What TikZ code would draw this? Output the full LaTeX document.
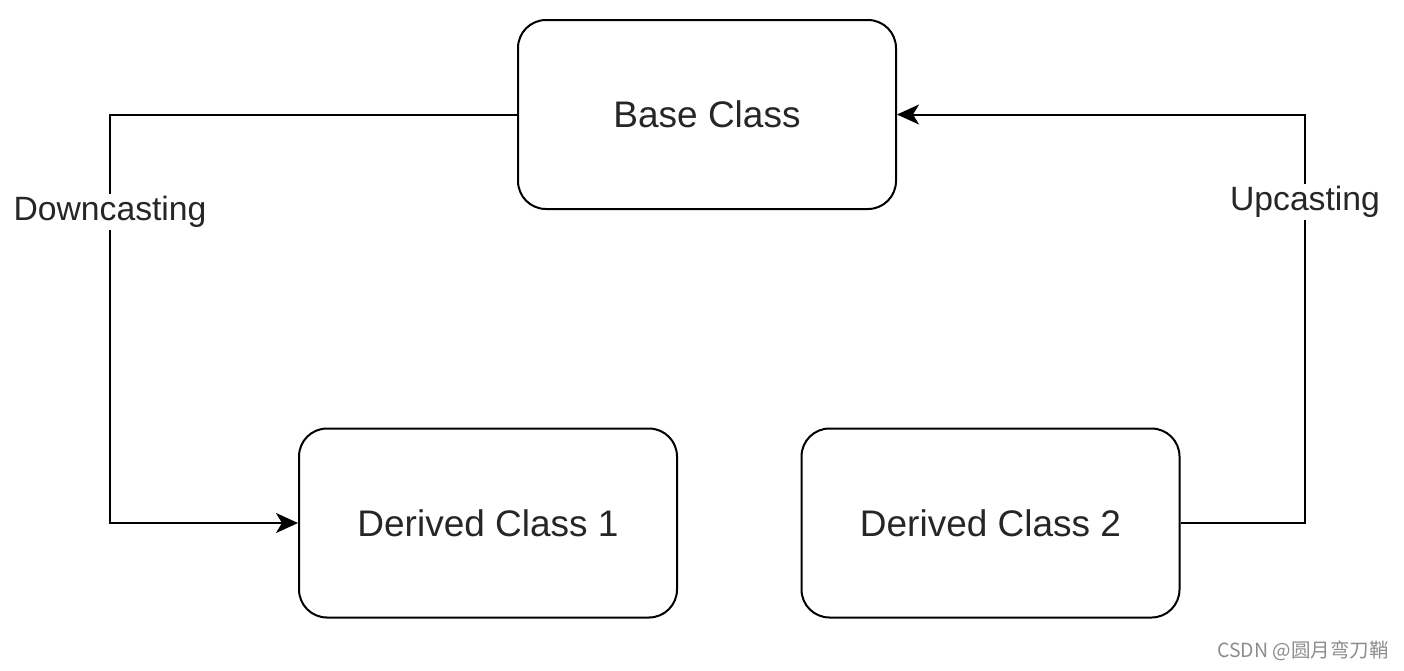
\documentclass[tikz,border=0pt]{standalone}
\usepackage{fontspec}
\setmainfont{Liberation Sans}
\newfontfamily\cjk{Noto Sans CJK SC}
\usetikzlibrary{arrows.meta}
\begin{document}
\begin{tikzpicture}[x=1pt,y=-1pt,
  cls/.style={draw=black,line width=2pt,rounded corners=28pt,minimum width=378pt,minimum height=189pt,inner sep=0pt,text=black!85,font=\fontsize{37}{40}\selectfont},
  conn/.style={draw=black,line width=2pt,-{Stealth[length=22pt,width=20pt,inset=6pt]}},
  lbl/.style={fill=white,inner sep=2pt,text=black!85,font=\fontsize{33.7}{36}\selectfont}]
\useasboundingbox (0,0) rectangle (1404,670);
\node[cls] (base) at (707,114.5) {Base Class};
\node[cls] (d1) at (488,523) {Derived Class 1};
\node[cls] (d2) at (990.5,523) {Derived Class 2};
\coordinate (lt) at (110,114.5);
\coordinate (lb) at (110,523);
\coordinate (rb) at (1305,523);
\coordinate (rt) at (1305,114.5);
\draw[conn] (base.west) -- (lt) -- (lb) -- (d1.west);
\draw[conn] (d2.east) -- (rb) -- (rt) -- (base.east);
\node[lbl] (down) at (110,212) {Downcasting};
\node[lbl] (up) at (1305,202) {Upcasting};
\node[anchor=east,text=black!45,font=\cjk\fontsize{19.5}{21}\selectfont,inner sep=0pt] (wm) at (1389,651) {CSDN @圆月弯刀鞘};
\end{tikzpicture}
\end{document}
